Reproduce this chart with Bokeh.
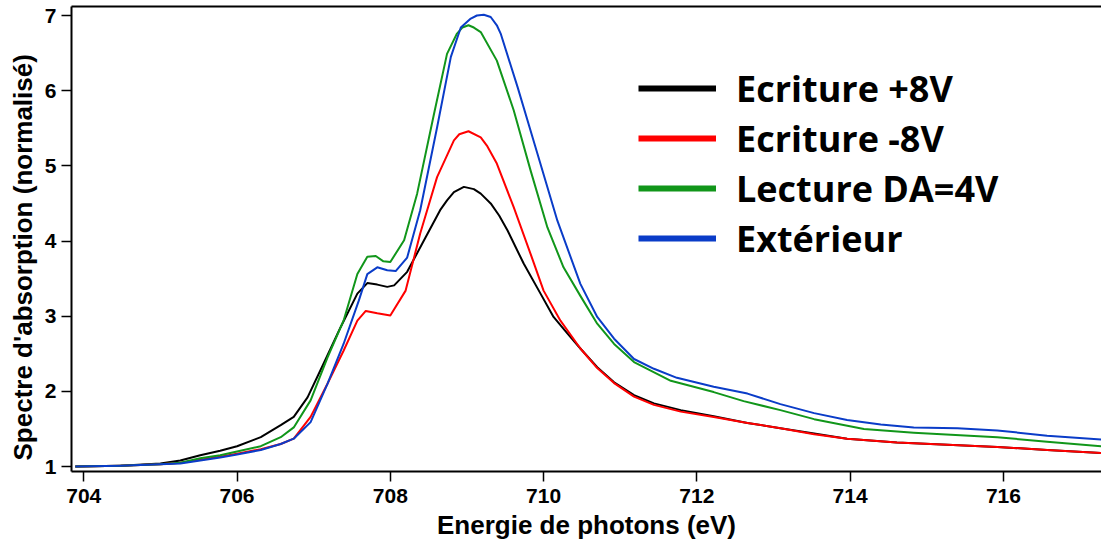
from bokeh.plotting import figure
from bokeh.models import Range1d, LinearAxis, Legend, LegendItem, Title, FixedTicker
from bokeh.embed import file_html
from bokeh.resources import INLINE

# ---- data (photon energy in eV, normalised absorption) ----
energy_p8 = [703.89, 704.48, 705.00, 705.26, 705.52, 705.78, 706.00, 706.31, 706.57, 706.74,
             706.92, 707.13, 707.35, 707.57, 707.70, 707.83, 707.96, 708.05, 708.22, 708.44,
             708.65, 708.74, 708.83, 708.96, 709.09, 709.18, 709.31, 709.42, 709.53, 709.74,
             709.96, 710.13, 710.31, 710.48, 710.70, 710.92, 711.18, 711.44, 711.79, 712.22,
             712.66, 713.09, 713.53, 713.96, 714.61, 715.27, 715.92, 716.57, 717.28]
absorb_p8 = [1.00, 1.01, 1.04, 1.08, 1.15, 1.21, 1.27, 1.39, 1.55, 1.66,
             1.92, 2.37, 2.85, 3.30, 3.44, 3.42, 3.39, 3.41, 3.59, 4.01,
             4.41, 4.54, 4.65, 4.72, 4.69, 4.63, 4.50, 4.34, 4.14, 3.70,
             3.30, 2.99, 2.77, 2.57, 2.32, 2.12, 1.95, 1.84, 1.75, 1.67,
             1.58, 1.51, 1.44, 1.37, 1.32, 1.29, 1.26, 1.22, 1.18]

energy_m8 = [703.89, 704.48, 705.00, 705.26, 705.52, 705.78, 706.00, 706.31, 706.57, 706.74,
             706.96, 707.18, 707.39, 707.57, 707.68, 707.83, 708.00, 708.20, 708.39, 708.61,
             708.83, 708.90, 709.02, 709.18, 709.26, 709.39, 709.61, 709.83, 710.00, 710.22,
             710.48, 710.70, 710.92, 711.18, 711.44, 711.79, 712.22, 712.66, 713.09, 713.53,
             713.96, 714.61, 715.27, 715.92, 716.57, 717.28]
absorb_m8 = [1.00, 1.01, 1.03, 1.05, 1.09, 1.13, 1.17, 1.23, 1.30, 1.37,
             1.66, 2.10, 2.54, 2.94, 3.07, 3.04, 3.01, 3.34, 4.10, 4.85,
             5.34, 5.42, 5.46, 5.38, 5.27, 5.03, 4.45, 3.83, 3.34, 2.94,
             2.57, 2.31, 2.11, 1.93, 1.82, 1.73, 1.66, 1.58, 1.51, 1.43,
             1.37, 1.32, 1.29, 1.26, 1.22, 1.18]

energy_da4 = [703.89, 704.48, 705.00, 705.26, 705.52, 705.78, 706.00, 706.31, 706.57, 706.74,
              706.96, 707.18, 707.39, 707.57, 707.70, 707.81, 707.91, 708.00, 708.18, 708.35,
              708.57, 708.74, 708.87, 708.94, 709.02, 709.09, 709.18, 709.39, 709.61, 709.83,
              710.05, 710.26, 710.48, 710.70, 710.92, 711.18, 711.66, 712.22, 712.61, 713.09,
              713.53, 714.18, 714.83, 715.92, 716.57, 717.28]
absorb_da4 = [1.00, 1.01, 1.03, 1.05, 1.11, 1.15, 1.20, 1.27, 1.39, 1.52,
              1.88, 2.45, 2.94, 3.56, 3.79, 3.80, 3.73, 3.72, 4.01, 4.63,
              5.69, 6.49, 6.76, 6.84, 6.87, 6.84, 6.78, 6.40, 5.74, 4.94,
              4.18, 3.65, 3.27, 2.90, 2.63, 2.39, 2.14, 1.99, 1.87, 1.75,
              1.63, 1.50, 1.45, 1.39, 1.33, 1.27]

energy_ext = [703.89, 704.48, 705.00, 705.26, 705.52, 705.78, 706.00, 706.31, 706.57, 706.74,
              706.96, 707.18, 707.39, 707.59, 707.70, 707.83, 707.96, 708.07, 708.22, 708.39,
              708.61, 708.79, 708.92, 709.05, 709.13, 709.22, 709.31, 709.39, 709.44, 709.66,
              709.92, 710.18, 710.48, 710.70, 710.92, 711.18, 711.44, 711.74, 712.22, 712.66,
              713.09, 713.53, 713.96, 714.40, 714.83, 715.40, 715.92, 716.57, 717.28]
absorb_ext = [1.00, 1.01, 1.03, 1.04, 1.08, 1.12, 1.16, 1.22, 1.30, 1.37,
              1.59, 2.10, 2.63, 3.21, 3.56, 3.65, 3.61, 3.60, 3.78, 4.41,
              5.51, 6.45, 6.84, 6.96, 7.00, 7.01, 6.98, 6.87, 6.76, 6.05,
              5.16, 4.27, 3.43, 2.99, 2.70, 2.43, 2.30, 2.18, 2.06, 1.97,
              1.83, 1.71, 1.62, 1.56, 1.52, 1.51, 1.48, 1.41, 1.36]

series_names = ["Ecriture +8V", "Ecriture -8V", "Lecture DA=4V", "Extérieur"]
series_colors = ["#000000", "#ff0000", "#11961a", "#0a3cc8"]
x_ticks = [704, 706, 708, 710, 712, 714, 716]
y_ticks = [1, 2, 3, 4, 5, 6, 7]
x_title = "Energie de photons (eV)"
y_title = "Spectre d'absorption (normalisé)"

energies = [energy_p8, energy_m8, energy_da4, energy_ext]
absorbs = [absorb_p8, absorb_m8, absorb_da4, absorb_ext]

p = figure(width=1101, height=548, output_backend="svg", toolbar_location=None,
           x_range=Range1d(703.84, 717.28), y_range=Range1d(0.9335, 7.12),
           min_border_left=71, min_border_right=0, min_border_top=6, min_border_bottom=77,
           x_axis_label=x_title)
p.outline_line_color = None
p.xgrid.grid_line_color = None
p.ygrid.grid_line_color = None
p.background_fill_color = "white"
p.border_fill_color = "white"

FONT = "Liberation Sans"
for ax in (p.xaxis[0], p.yaxis[0]):
    ax.axis_line_width = 2
    ax.axis_line_color = "black"
    ax.major_tick_out = 10
    ax.major_tick_in = 0
    ax.major_tick_line_width = 1.5
    ax.major_tick_line_color = "black"
    ax.minor_tick_line_color = None
    ax.major_label_text_font = FONT
    ax.major_label_text_font_style = "bold"
    ax.major_label_text_font_size = "21px"
    ax.major_label_text_color = "black"
p.xaxis[0].ticker = FixedTicker(ticks=x_ticks)
p.yaxis[0].ticker = FixedTicker(ticks=y_ticks)
p.xaxis[0].major_label_standoff = 7
p.yaxis[0].major_label_standoff = 5
p.xaxis[0].axis_label_text_font = FONT
p.xaxis[0].axis_label_text_font_style = "bold"
p.xaxis[0].axis_label_text_font_size = "26px"
p.xaxis[0].axis_label_text_color = "black"
p.xaxis[0].axis_label_standoff = 4

top = LinearAxis(ticker=FixedTicker(ticks=[]), axis_line_width=2, axis_line_color="black",
                 major_tick_out=0, major_tick_in=0, minor_tick_out=0, minor_tick_in=0,
                 major_label_text_font_size="0px", major_label_standoff=0)
p.add_layout(top, "above")

p.add_layout(Title(text=y_title, align="left", offset=11, text_font=FONT,
                   text_font_style="bold", text_font_size="26px", text_color="black",
                   standoff=8), "left")

for xs, ys, c in zip(energies, absorbs, series_colors):
    p.line(xs, ys, line_color=c, line_width=2, line_join="round")

items = []
for name, c in zip(series_names, series_colors):
    r = p.line([float("nan")], [float("nan")], line_color=c, line_width=6)
    items.append(LegendItem(label=name, renderers=[r]))
legend = Legend(items=items, location=(567, 208), glyph_width=78, glyph_height=50,
                label_height=50, spacing=0, padding=0, margin=0, label_standoff=20,
                border_line_color=None, background_fill_alpha=0,
                label_text_font="Open Sans", label_text_font_style="bold",
                label_text_font_size="36px", label_text_color="black")
p.add_layout(legend)

open("out.html", "w").write(file_html(p, INLINE))
